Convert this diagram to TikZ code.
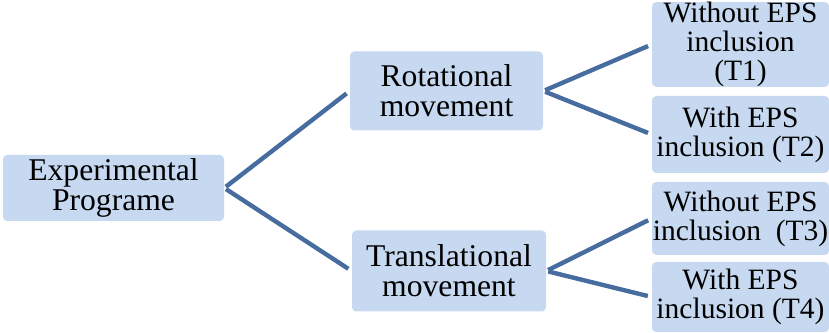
\documentclass[tikz,border=0pt]{standalone}
\usepackage{fontspec}
\setmainfont{Liberation Serif}
\definecolor{boxblue}{RGB}{198,217,240}
\definecolor{linkblue}{RGB}{70,108,160}
\tikzset{
  stagebox/.style={fill=boxblue, draw=none, rounded corners=3pt, inner sep=0pt, align=center, font=\fontsize{22.5pt}{21.3pt}\selectfont},
  leafbox/.style={stagebox, minimum width=4.425cm, font=\fontsize{21pt}{20.6pt}\selectfont},
  branch/.style={line width=0.11cm, draw=linkblue, shorten <=0.05cm, shorten >=0.1cm},
}
\begin{document}
\begin{tikzpicture}
\useasboundingbox (0,0) rectangle (20.725,8.325);
\node[stagebox, minimum width=5.525cm, minimum height=1.650cm] (root) at (2.838,3.625) {Experimental\\Programe};
\node[stagebox, minimum width=4.825cm, minimum height=1.975cm] (rot) at (11.163,6.050) {Rotational\\movement};
\node[stagebox, minimum width=4.850cm, minimum height=2.025cm] (trans) at (11.225,1.550) {Translational\\movement};
\node[leafbox, minimum height=2.075cm] (tone) at (18.513,7.213) {Without EPS\\inclusion\\(T1)};
\node[leafbox, minimum height=1.925cm] (ttwo) at (18.513,4.963) {With EPS\\inclusion (T2)};
\node[leafbox, minimum height=1.825cm] (tthree) at (18.513,2.863) {Without EPS\\inclusion\ \ (T3)};
\node[leafbox, minimum height=1.750cm] (tfour) at (18.513,0.900) {With EPS\\inclusion (T4)};
\draw[branch] (root.east) -- (rot.west);
\draw[branch] (root.east) -- (trans.west);
\draw[branch] (rot.east) -- (tone.west);
\draw[branch] (rot.east) -- (ttwo.west);
\draw[branch] (trans.east) -- (tthree.west);
\draw[branch] (trans.east) -- (tfour.west);
\end{tikzpicture}
\end{document}
